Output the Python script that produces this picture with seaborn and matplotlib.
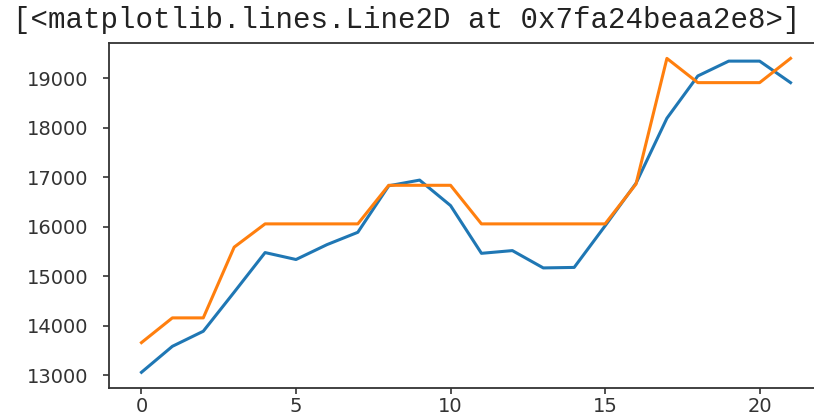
"""Two price-like series drawn as lines, notebook-output look."""
import matplotlib as mpl
import matplotlib.pyplot as plt
import pandas as pd
import seaborn as sns

W, H = 814, 416

steps = list(range(22))
actual = [13060, 13585, 13890, 14680, 15480, 15340, 15640, 15890, 16830, 16945,
          16430, 15465, 15520, 15170, 15180, 16020, 16880, 18195, 19050, 19350,
          19350, 18915]
predicted = [13660, 14160, 14160, 15590, 16060, 16060, 16060, 16060, 16840, 16840,
             16840, 16060, 16060, 16060, 16060, 16060, 16865, 19405, 18915, 18915,
             18915, 19405]
header = "[<matplotlib.lines.Line2D at 0x7fa24beaa2e8>]"

mpl.rcParams["font.family"] = "DejaVu Sans"

df = pd.DataFrame({"step": steps, "actual": actual, "predicted": predicted})

fig = plt.figure(figsize=(W / 100, H / 100), dpi=100)
# axes run past the right edge, as in the cropped screenshot
ax = fig.add_axes([109 / W, 28 / H, (823 - 109) / W, (388 - 42.7) / H])

sns.lineplot(data=df, x="step", y="actual", ax=ax, color="#1f77b4", linewidth=2.2)
sns.lineplot(data=df, x="step", y="predicted", ax=ax, color="#ff7f0e", linewidth=2.2)

ax.set_xlabel("")
ax.set_ylabel("")
ax.set_xticks([0, 5, 10, 15, 20])
ax.set_yticks([13000, 14000, 15000, 16000, 17000, 18000, 19000])
ax.tick_params(labelsize=14, colors="#333333", length=4, width=1.2)
ax.tick_params(axis="y", pad=11)
ax.tick_params(axis="x", pad=2.5)
for spine in ax.spines.values():
    spine.set_color("#333333")
    spine.set_linewidth(1.3)

fig.text(13 / W, 1 - 20 / H, header, family="Liberation Mono", fontsize=21,
         color="#222222", va="center", ha="left")

fig.savefig("out.png", dpi=100)
